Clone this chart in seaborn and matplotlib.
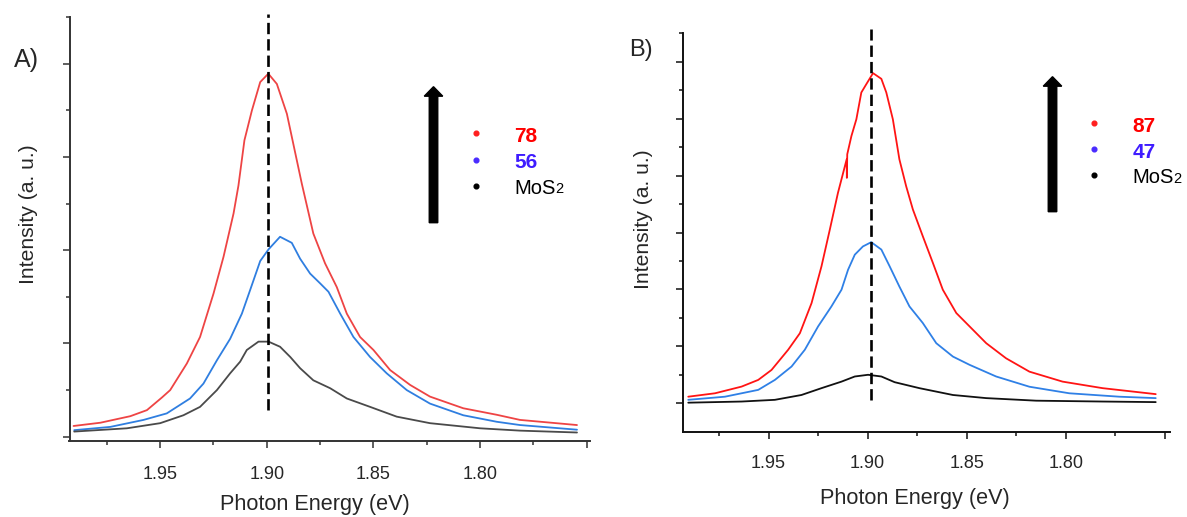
import matplotlib
matplotlib.use("Agg")
import matplotlib.pyplot as plt
from matplotlib.patches import FancyArrow
from matplotlib.ticker import FixedLocator, NullFormatter
import pandas as pd
import seaborn as sns

# ---------------- PL spectra, panel A ----------------
a_red_energy = [1.9906, 1.978, 1.964, 1.9562, 1.9492, 1.9453, 1.9375, 1.9313, 1.925, 1.9203,
                1.9156, 1.9133, 1.9105, 1.907, 1.9031, 1.8993, 1.8953, 1.8906, 1.8836, 1.8782,
                1.8727, 1.8672, 1.8625, 1.8563, 1.85, 1.8422, 1.8328, 1.8235, 1.8079, 1.7922,
                1.7813, 1.7546]
a_red_int = [0.23, 0.30, 0.44, 0.57, 0.84, 1.00, 1.57, 2.14, 3.07, 3.86,
             4.79, 5.39, 6.36, 7.00, 7.61, 7.79, 7.57, 6.93, 5.43, 4.36,
             3.72, 3.21, 2.64, 2.14, 1.86, 1.43, 1.11, 0.86, 0.61, 0.47,
             0.36, 0.25]

a_blue_energy = [1.9903, 1.9734, 1.9578, 1.9469, 1.936, 1.9297, 1.9234, 1.9172, 1.9117, 1.9078,
                 1.9031, 1.8992, 1.8938, 1.8883, 1.8844, 1.8797, 1.875, 1.8711, 1.8656, 1.8594,
                 1.8516, 1.8438, 1.8344, 1.8235, 1.8079, 1.7922, 1.7813, 1.7546]
a_blue_int = [0.14, 0.21, 0.36, 0.50, 0.82, 1.14, 1.64, 2.10, 2.64, 3.15,
              3.77, 4.02, 4.29, 4.16, 3.82, 3.50, 3.29, 3.11, 2.64, 2.14,
              1.71, 1.36, 1.00, 0.71, 0.46, 0.32, 0.25, 0.15]

a_mos2_energy = [1.9903, 1.9656, 1.95, 1.9391, 1.9313, 1.9234, 1.9172, 1.9125, 1.9094, 1.9039,
                 1.8992, 1.8938, 1.889, 1.8844, 1.8782, 1.8703, 1.8625, 1.8516, 1.8391, 1.8235,
                 1.80, 1.7813, 1.7546]
a_mos2_int = [0.11, 0.18, 0.29, 0.46, 0.64, 1.00, 1.36, 1.61, 1.86, 2.04,
              2.04, 1.93, 1.71, 1.47, 1.21, 1.04, 0.82, 0.64, 0.43, 0.29,
              0.18, 0.13, 0.09]

# ---------------- PL spectra, panel B ----------------
b_red_energy = [1.9905, 1.977, 1.9636, 1.9552, 1.9485, 1.9401, 1.9342, 1.9283, 1.9233, 1.9191,
                1.915, 1.9106, 1.9105, 1.9103, 1.9082, 1.9057, 1.9032, 1.9007, 1.8973, 1.8931,
                1.8906, 1.8873, 1.884, 1.8806, 1.8772, 1.8722, 1.8671, 1.8621, 1.8553, 1.8486,
                1.8402, 1.8302, 1.8184, 1.8017, 1.7815, 1.7547]
b_red_int = [0.23, 0.35, 0.585, 0.82, 1.17, 1.88, 2.46, 3.52, 4.81, 6.10,
             7.39, 8.57, 7.92, 8.75, 9.39, 9.98, 10.92, 11.21, 11.60, 11.40,
             10.92, 9.98, 8.57, 7.63, 6.81, 5.87, 4.93, 3.99, 3.17, 2.70,
             2.11, 1.58, 1.11, 0.76, 0.53, 0.32]

b_blue_energy = [1.9905, 1.972, 1.9552, 1.9468, 1.9384, 1.9317, 1.925, 1.9183, 1.9132, 1.9099,
                 1.9065, 1.9024, 1.8982, 1.8931, 1.8889, 1.884, 1.8789, 1.8722, 1.8654, 1.857,
                 1.8486, 1.8352, 1.8184, 1.7983, 1.7731, 1.7547]
b_blue_int = [0.12, 0.23, 0.47, 0.82, 1.29, 1.88, 2.70, 3.40, 3.99, 4.69,
              5.22, 5.51, 5.66, 5.40, 4.81, 4.10, 3.40, 2.82, 2.11, 1.64,
              1.35, 0.94, 0.58, 0.35, 0.23, 0.18]

b_mos2_energy = [1.9905, 1.9636, 1.9468, 1.9334, 1.9233, 1.9132, 1.9065, 1.8998, 1.8931, 1.8864,
                 1.8739, 1.857, 1.8402, 1.815, 1.7815, 1.7547]
b_mos2_int = [0.02, 0.06, 0.12, 0.29, 0.53, 0.76, 0.94, 1.00, 0.94, 0.74,
              0.53, 0.29, 0.18, 0.09, 0.06, 0.04]

# legend entries (top to bottom) and peak-position guides
a_labels = ["78", "56", "MoS"]
b_labels = ["87", "47", "MoS"]
a_peak_energy, a_peak_span = 1.8995, (0.57, 9.07)
b_peak_energy, b_peak_span = 1.8983, (0.12, 13.14)

x_major = [1.95, 1.90, 1.85, 1.80, 1.75]
x_major_labels = ["1.95", "1.90", "1.85", "1.80", ""]
x_minor = [1.975, 1.925, 1.875, 1.825, 1.775]


def frame(series):
    rows = []
    for name, energy, inten in series:
        rows.append(pd.DataFrame({"energy": energy, "intensity": inten, "sample": name}))
    return pd.concat(rows, ignore_index=True)


df_a = frame([("red", a_red_energy, a_red_int),
              ("blue", a_blue_energy, a_blue_int),
              ("mos2", a_mos2_energy, a_mos2_int)])
df_b = frame([("red", b_red_energy, b_red_int),
              ("blue", b_blue_energy, b_blue_int),
              ("mos2", b_mos2_energy, b_mos2_int)])

sns.set_theme(style="ticks")
plt.rcParams["font.family"] = ["Liberation Sans", "DejaVu Sans"]

W, H, DPI = 1187, 517, 100
fig = plt.figure(figsize=(W / DPI, H / DPI), dpi=DPI)


def px(x, y):
    """pixel position (from top-left) -> inches for fig.dpi_scale_trans"""
    return x / DPI, (H - y) / DPI


def axes_at(left, top, right, bottom):
    return fig.add_axes([left / W, 1 - bottom / H, (right - left) / W, (bottom - top) / H])


ax_a = axes_at(69.5, 17.3, 590, 440.7)
ax_b = axes_at(683.3, 33.3, 1170, 431.7)

pal_a = {"red": "#ee4444", "blue": "#2f7ee0", "mos2": "#4a4a4a"}
pal_b = {"red": "#ff1414", "blue": "#2f80e6", "mos2": "#111111"}

sns.lineplot(data=df_a, x="energy", y="intensity", hue="sample", palette=pal_a,
             sort=False, estimator=None, legend=False, linewidth=1.3, ax=ax_a)
sns.lineplot(data=df_b, x="energy", y="intensity", hue="sample", palette=pal_b,
             sort=False, estimator=None, legend=False, linewidth=1.3, ax=ax_b)

ax_a.set_xlim(1.9925, 1.7485)
ax_a.set_ylim(-0.086, 9.0)
ax_b.set_xlim(1.993, 1.7475)
ax_b.set_ylim(-1.0, 13.0)

for ax, spine_col, ymaj, ymin, lpad in [
    (ax_a, "#333333", [0, 2, 4, 6, 8], [1, 3, 5, 7, 9], 13.5),
    (ax_b, "#111111", [0, 2, 4, 6, 8, 10, 12], [1, 3, 5, 7, 9, 11, 13], 11.5),
]:
    for side in ("top", "right"):
        ax.spines[side].set_visible(False)
    for side in ("left", "bottom"):
        ax.spines[side].set_color(spine_col)
        ax.spines[side].set_linewidth(1.4)
    ax.xaxis.set_major_locator(FixedLocator(x_major))
    ax.set_xticklabels(x_major_labels)
    ax.xaxis.set_minor_locator(FixedLocator(x_minor))
    ax.yaxis.set_major_locator(FixedLocator(ymaj))
    ax.yaxis.set_minor_locator(FixedLocator(ymin))
    ax.yaxis.set_major_formatter(NullFormatter())
    ax.tick_params(which="major", direction="out", length=5, width=1.1,
                   color=spine_col, labelsize=13)
    ax.tick_params(axis="x", which="major", pad=lpad)
    ax.tick_params(which="minor", direction="out", length=3, width=1.1, color=spine_col)
    ax.set_xlabel("Photon Energy (eV)", fontsize=15.6)
    ax.set_ylabel("Intensity (a. u.)", fontsize=15.2)
    ax.xaxis.label.set_va("center")
    ax.yaxis.label.set_va("center")
    ax.set_facecolor("white")

ax_a.xaxis.set_label_coords(0.4717, -0.1505)
ax_a.yaxis.set_label_coords(-0.078, 0.5354)
ax_b.xaxis.set_label_coords(0.476, -0.168)
ax_b.yaxis.set_label_coords(-0.081, 0.534)

# dashed guide at the A-exciton peak
for ax, e, (lo, hi) in [(ax_a, a_peak_energy, a_peak_span), (ax_b, b_peak_energy, b_peak_span)]:
    ax.plot([e, e], [lo, hi], color="black", lw=1.9, ls=(0, (4.3, 1.9)), clip_on=False, zorder=5)

# panel letters
fig.text(*px(26, 60), "A)", transform=fig.dpi_scale_trans, fontsize=18, ha="center", va="center")
fig.text(*px(641, 50), "B)", transform=fig.dpi_scale_trans, fontsize=17, ha="center", va="center")

# upward arrows showing increasing PL intensity
for cx, y_bot, y_top in [(433.5, 222.7, 86.7), (1052.5, 211.7, 76.7)]:
    x0, y0 = px(cx, y_bot)
    _, y1 = px(cx, y_top)
    fig.add_artist(FancyArrow(x0, y0, 0, y1 - y0, width=0.085, head_width=0.185,
                              head_length=0.095, length_includes_head=True,
                              color="black", transform=fig.dpi_scale_trans))

# legends: colored dot + label
dot_cols = ["#ff2020", "#4a2cff", "#000000"]
txt_cols = ["#ff0000", "#3f1cff", "#000000"]


def legend(labels, dot_x, dot_ys, txt_x, baselines):
    for i, lab in enumerate(labels):
        fig.add_artist(plt.Line2D([dot_x / DPI], [(H - dot_ys[i]) / DPI], marker="o",
                                  markersize=3.4, color=dot_cols[i], lw=0,
                                  transform=fig.dpi_scale_trans))
        if i < 2:
            fig.text(*px(txt_x, baselines[i]), lab, transform=fig.dpi_scale_trans,
                     fontsize=15, fontweight="bold", color=txt_cols[i], va="baseline")
        else:
            t = fig.text(*px(txt_x, baselines[i]), lab, transform=fig.dpi_scale_trans,
                         fontsize=14.5, color="black", va="baseline")
            fig.add_artist(plt.Annotation("2", xy=(1.0, 0.0), xycoords=t,
                                          xytext=(-0.6, 1.2), textcoords="offset points",
                                          fontsize=10.5, color="black",
                                          va="bottom", ha="left"))


legend(a_labels, 476, [133.3, 160, 186], 514.3, [141.7, 168.3, 194])
legend(b_labels, 1094, [123.3, 149.3, 175], 1132.7, [131.7, 158.3, 183.3])

fig.savefig("out.png", dpi=DPI, facecolor="white")
